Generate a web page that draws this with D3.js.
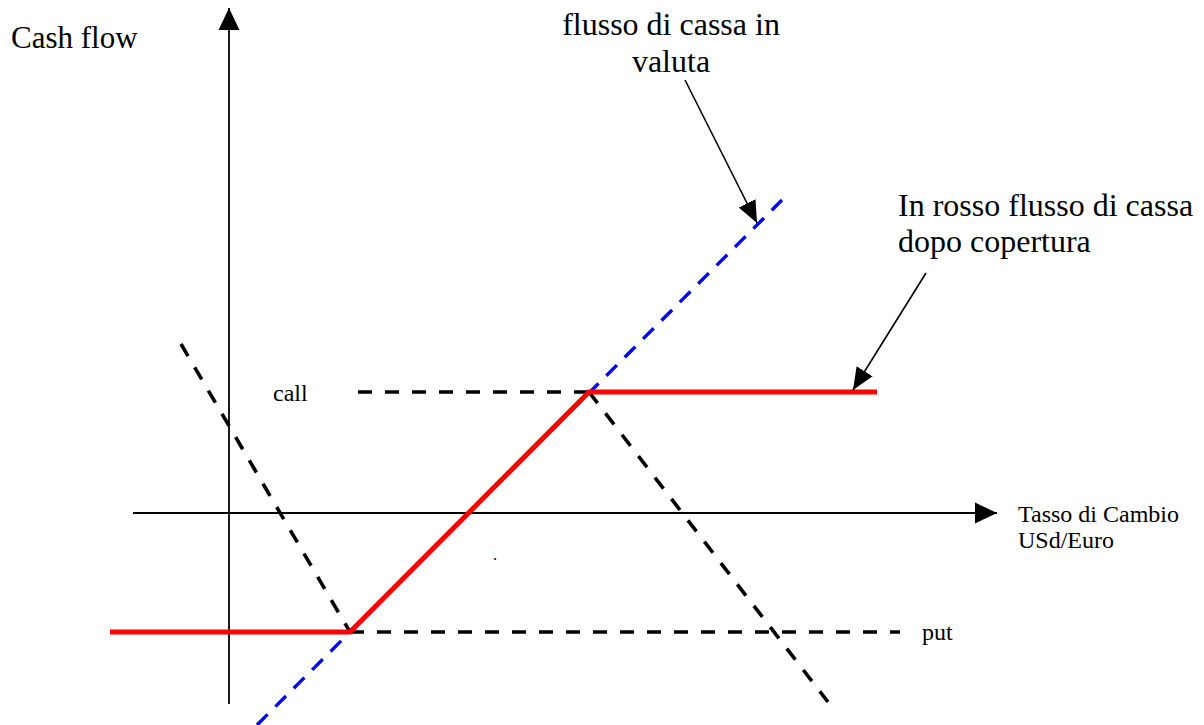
<!DOCTYPE html>
<html>
<head>
<meta charset="utf-8">
<script src="https://cdn.jsdelivr.net/npm/d3@7"></script>
<style>
  body { margin: 0; background: #fff; }
  text { font-family: "Liberation Serif", "Times New Roman", serif; fill: #000; }
</style>
</head>
<body>
<svg id="chart" width="1204" height="725"></svg>
<script>
// ---- data (x = tasso di cambio, y = cash flow, arbitrary units) ----
var putStrike = 1.21, callStrike = 3.60;
var putLevel = -1.19, callLevel = 1.21;

// red: cash flow after hedging
var hedgedX = [-1.19, putStrike, callStrike, 6.48];
var hedgedY = [putLevel, putLevel, callLevel, callLevel];

// blue: unhedged currency cash flow
var unhedgedX = [0.28, 5.53];
var unhedgedY = [-2.12, 3.13];

// black dashed: option levels and payoff lines
var callLineX = [1.29, callStrike], callLineY = [callLevel, callLevel];
var putLineX = [putStrike, 6.71], putLineY = [putLevel, putLevel];
var putPayoffX = [-0.48, putStrike], putPayoffY = [1.69, putLevel];
var callPayoffX = [callStrike, 5.99], callPayoffY = [callLevel, -1.89];

// axes extents
var xAxisRange = [-0.96, 7.68];
var yAxisRange = [-1.91, 5.05];

// texts
var yTitle = ["Cash flow"];
var blueNote = ["flusso di cassa in", "valuta"];
var redNote = ["In rosso flusso di cassa", "dopo copertura"];
var callLabel = ["call"];
var putLabel = ["put"];
var xTitle = ["Tasso di Cambio", "USd/Euro"];
var strayDot = ["."];

// pointer arrows (from text to line)
var pointerFrom = [[4.56, 4.33], [6.97, 2.40]];
var pointerTo = [[5.28, 2.90], [6.24, 1.23]];

// ---- layout ----
var big = 32, small = 24;
var labelLayout = [
  { lines: yTitle, x: -2.18, y: 4.65, size: 31, lh: 37, anchor: "start" },
  { lines: blueNote, x: 4.42, y: 4.78, size: big, lh: 37, anchor: "middle" },
  { lines: redNote, x: 6.69, y: 2.97, size: big, lh: 36, anchor: "start" },
  { lines: callLabel, x: 0.44, y: 1.12, size: small, lh: 26, anchor: "start" },
  { lines: xTitle, x: 7.89, y: -0.09, size: small, lh: 26, anchor: "start" },
  { lines: putLabel, x: 6.93, y: -1.27, size: small, lh: 26, anchor: "start" },
  { lines: strayDot, x: 2.64, y: -0.47, size: 16, lh: 16, anchor: "start" }
];

// ---- scales ----
var svg = d3.select("#chart");
var xScale = d3.scaleLinear().domain([-1, 8]).range([129, 1029]);
var yScale = d3.scaleLinear().domain([-2, 5]).range([713, 13]);

var line = d3.line()
  .x(function (d) { return xScale(d[0]); })
  .y(function (d) { return yScale(d[1]); });

function zipXY(xs, ys) { return xs.map(function (x, i) { return [x, ys[i]]; }); }

// markers
var defs = svg.append("defs");
defs.append("marker")
  .attr("id", "axisHead")
  .attr("markerUnits", "userSpaceOnUse")
  .attr("markerWidth", 22).attr("markerHeight", 22)
  .attr("viewBox", "0 -10 21 20")
  .attr("refX", 21).attr("refY", 0)
  .attr("orient", "auto")
  .append("path").attr("d", "M0,-10L21,0L0,10Z").attr("fill", "#000");
defs.append("marker")
  .attr("id", "pointHead")
  .attr("markerUnits", "userSpaceOnUse")
  .attr("markerWidth", 22).attr("markerHeight", 22)
  .attr("viewBox", "0 -10 21 20")
  .attr("refX", 21).attr("refY", 0)
  .attr("orient", "auto")
  .append("path").attr("d", "M0,-9L21,0L0,9Z").attr("fill", "#000");

// ---- axes ----
svg.append("path")
  .attr("d", line([[xAxisRange[0], 0], [xAxisRange[1], 0]]))
  .attr("stroke", "#000").attr("stroke-width", 1.8).attr("fill", "none")
  .attr("marker-end", "url(#axisHead)");
svg.append("path")
  .attr("d", line([[0, yAxisRange[0]], [0, yAxisRange[1]]]))
  .attr("stroke", "#000").attr("stroke-width", 1.8).attr("fill", "none")
  .attr("marker-end", "url(#axisHead)");

// ---- black dashed lines ----
var dashed = [
  zipXY(putPayoffX, putPayoffY),
  zipXY(callPayoffX, callPayoffY),
  zipXY(callLineX, callLineY),
  zipXY(putLineX, putLineY)
];
svg.selectAll("path.dash")
  .data(dashed)
  .enter().append("path")
  .classed("dash", true)
  .attr("d", line)
  .attr("fill", "none")
  .attr("stroke", "#000")
  .attr("stroke-width", 3.6)
  .attr("stroke-dasharray", "14,13");

// ---- blue dashed ----
svg.append("path")
  .attr("d", line(zipXY(unhedgedX, unhedgedY)))
  .attr("fill", "none")
  .attr("stroke", "#0000ff")
  .attr("stroke-width", 3.4)
  .attr("stroke-dasharray", "15,11");

// ---- red hedged ----
svg.append("path")
  .attr("d", line(zipXY(hedgedX, hedgedY)))
  .attr("fill", "none")
  .attr("stroke", "#ff0000")
  .attr("stroke-width", 5)
  .attr("stroke-linejoin", "miter");

// ---- pointer arrows ----
svg.selectAll("path.pointer")
  .data(d3.zip(pointerFrom, pointerTo))
  .enter().append("path")
  .classed("pointer", true)
  .attr("d", line)
  .attr("stroke", "#000").attr("stroke-width", 1.6).attr("fill", "none")
  .attr("marker-end", "url(#pointHead)");

// ---- labels ----
var lab = svg.selectAll("text.lab")
  .data(labelLayout)
  .enter().append("text")
  .classed("lab", true)
  .attr("x", function (d) { return xScale(d.x); })
  .attr("y", function (d) { return yScale(d.y); })
  .attr("text-anchor", function (d) { return d.anchor; })
  .style("font-size", function (d) { return d.size + "px"; });
lab.selectAll("tspan")
  .data(function (d) { return d.lines.map(function (t, i) { return { t: t, i: i, d: d }; }); })
  .enter().append("tspan")
  .attr("x", function (e) { return xScale(e.d.x); })
  .attr("dy", function (e) { return e.i === 0 ? 0 : e.d.lh + "px"; })
  .text(function (e) { return e.t; });
</script>
</body>
</html>
